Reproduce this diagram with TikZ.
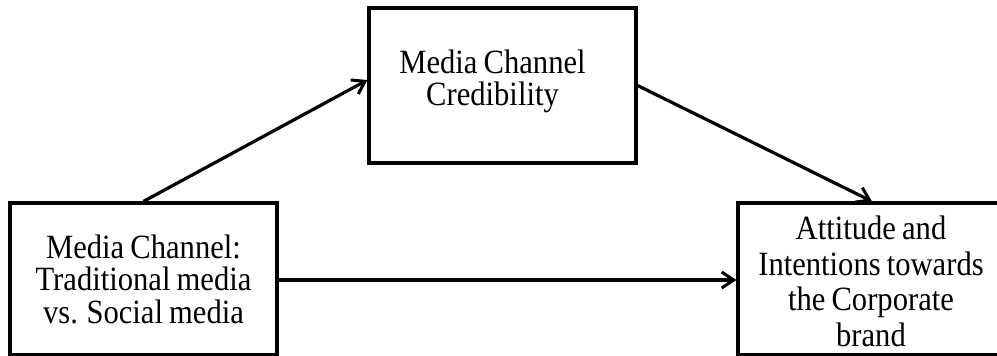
\documentclass[tikz,border=0pt]{standalone}
\usepackage{fontspec}
\setmainfont{Liberation Serif}[FakeStretch=0.9,WordSpace=0.8]
\usetikzlibrary{arrows.meta}
\begin{document}
\begin{tikzpicture}[x=1pt,y=-1pt,
  box/.style={draw=black,line width=3.2pt,rectangle,inner sep=0pt},
  lbl/.style={align=center,inner sep=0pt},
  conn/.style={line width=3.2pt,-{Straight Barb[length=12pt,width=16pt,line width=3pt]}}]
\useasboundingbox (0,0) rectangle (997,356);
\clip (0,0) rectangle (997,356);
\node[box,minimum width=267pt,minimum height=155pt] (mid) at (502.5,85.5) {};
\node[box,minimum width=267pt,minimum height=152pt] (src) at (143.5,279) {};
\node[box,minimum width=268pt,minimum height=152pt] (dst) at (872,279) {};
\node[lbl,font=\fontsize{34}{32.5}\selectfont] (midt) at (492.5,81.6) {Media Channel\\Credibility};
\node[lbl,font=\fontsize{34}{32.5}\selectfont] (srct) at (143.5,279) {Media Channel:\\Traditional media\\vs. Social media};
\node[lbl,font=\fontsize{34}{35.8}\selectfont] (dstt) at (871,281.4) {Attitude and\\Intentions towards\\the Corporate\\brand};
\draw[conn] (src.north) -- ([yshift=5.5pt]mid.west);
\draw[conn] (mid.east) -- (dst.north);
\draw[conn] ([yshift=-1pt]src.east) -- ([yshift=-1pt]dst.west);
\end{tikzpicture}
\end{document}
